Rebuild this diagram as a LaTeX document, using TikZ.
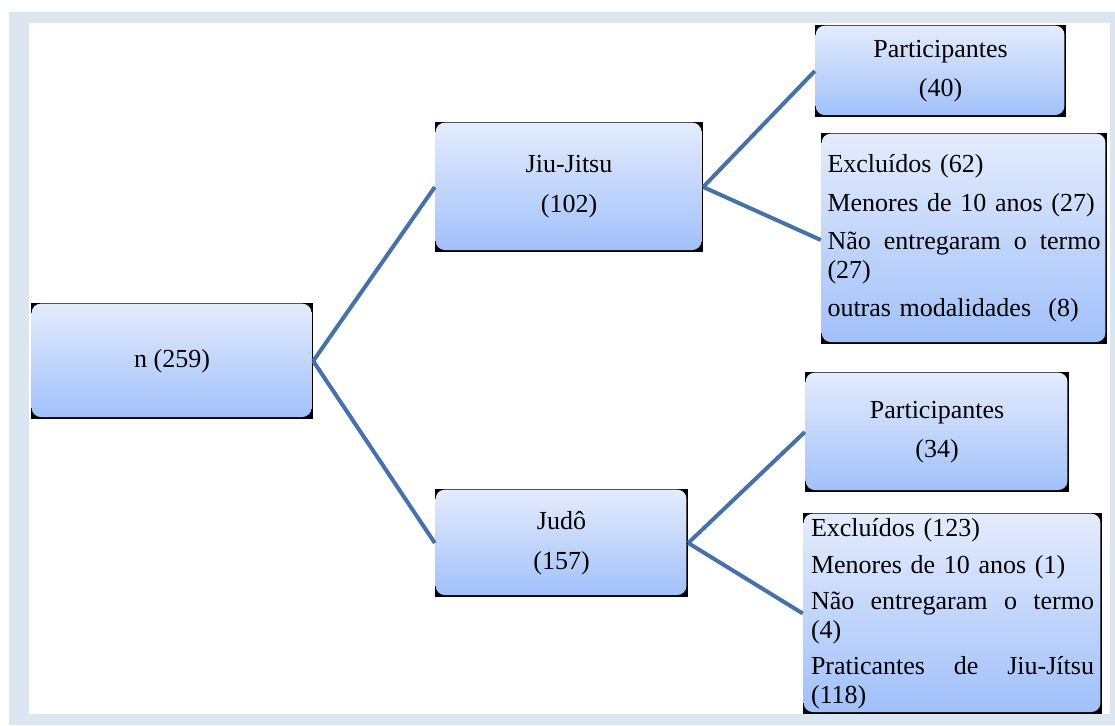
\documentclass[tikz,border=0pt]{standalone}
\usepackage{fontspec}
\setmainfont{Liberation Serif}
\definecolor{moldura}{RGB}{220,230,241}
\definecolor{cxtopo}{RGB}{228,236,253}
\definecolor{cxbase}{RGB}{160,192,250}
\definecolor{linha}{RGB}{70,114,168}
\begin{document}
\begin{tikzpicture}[x=1pt,y=-1pt,
caixa/.style={fill=black, inner sep=0pt, font=\fontsize{26}{28.5}\selectfont, path picture={
\shade[top color=cxtopo, bottom color=cxbase, rounded corners=9pt]
([xshift=0.7pt,yshift=2pt]path picture bounding box.south west) rectangle ([xshift=-1.6pt,yshift=-0.7pt]path picture bounding box.north east);
}},
liga/.style={draw=linha, line width=4pt}]
\useasboundingbox (0,0) rectangle (1115,725);
\fill[moldura] (9,12) rectangle (1115,725);
\fill[white] (29,23) rectangle (1110,714);
% caixas
\node [caixa, minimum width=282pt, minimum height=116pt] (total) at (172,361) {n (259)};
\node [caixa, align=center, minimum width=268pt, minimum height=130pt] (jiu) at (569,187) {Jiu-Jitsu\\[11.5pt](102)};
\node [caixa, align=center, minimum width=253pt, minimum height=108pt] (judo) at (561.5,543) {Judô\\[11.5pt](157)};
\node [caixa, align=center, minimum width=251pt, minimum height=92pt] (partjiu) at (940.5,71) {Participantes\\[11pt](40)};
\node [caixa, align=left, text width=273pt, minimum width=286pt, minimum height=211pt] (excjiu) at (964,238.5) {Excluídos (62)\\[10pt]
\mbox{Menores de 10 anos (27)}\\[10pt]
Não\hfill entregaram\hfill o\hfill termo\\
(27)\\[10pt]
\mbox{outras modalidades\ \ (8)}};
\node [caixa, align=center, minimum width=264pt, minimum height=120pt] (partjudo) at (937,432) {Participantes\\[11pt](34)};
\node [caixa, align=left, text width=283pt, minimum width=299pt, minimum height=201pt] (excjudo) at (952.5,613.5) {Excluídos (123)\\[8pt]
Menores de 10 anos (1)\\[8pt]
Não\hfill entregaram\hfill o\hfill termo\\
(4)\\[8pt]
Praticantes\hfill de\hfill Jiu-Jítsu\\
(118)};
% ligacoes
\draw[liga] (total.east) -- (jiu.west);
\draw[liga] (total.east) -- (judo.west);
\draw[liga] (jiu.east) -- (partjiu.west);
\draw[liga] (jiu.east) -- ([yshift=-1.5pt]excjiu.west);
\draw[liga] (judo.east) -- (partjudo.west);
\draw[liga] (judo.east) -- (excjudo.west);
\end{tikzpicture}
\end{document}
